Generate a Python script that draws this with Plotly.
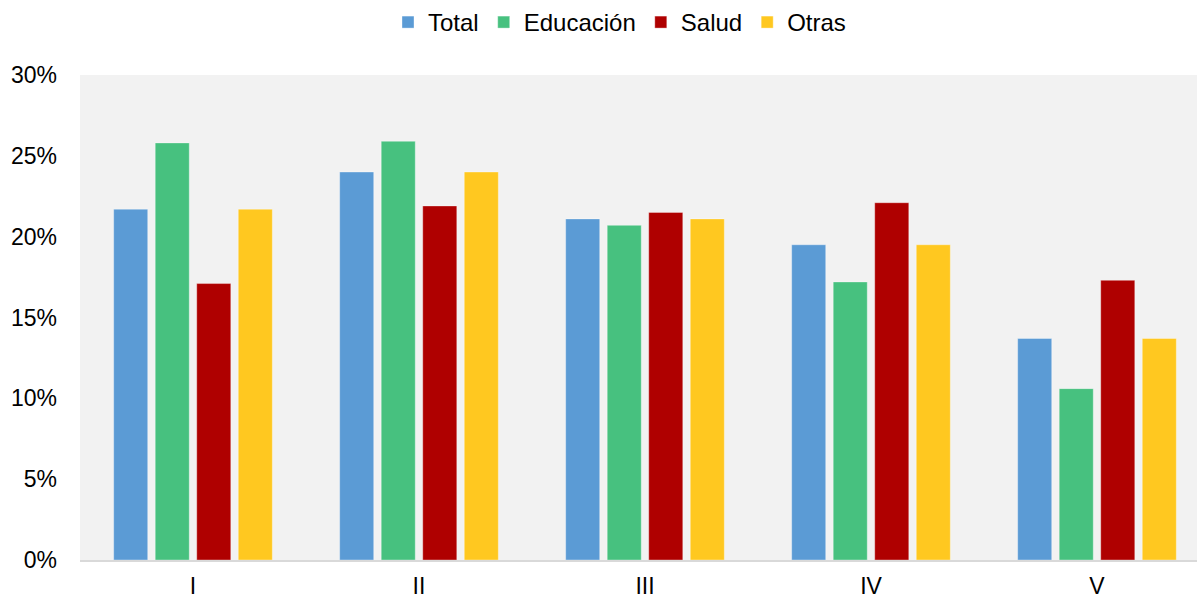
import plotly.graph_objects as go

categories = ["I", "II", "III", "IV", "V"]
total = [0.217, 0.240, 0.211, 0.195, 0.137]
educacion = [0.258, 0.259, 0.207, 0.172, 0.106]
salud = [0.171, 0.219, 0.215, 0.221, 0.173]
otras = [0.217, 0.240, 0.211, 0.195, 0.137]

series = [
    ("Total", total, "#5B9BD5"),
    ("Educación", educacion, "#47C17F"),
    ("Salud", salud, "#AF0000"),
    ("Otras", otras, "#FFC820"),
]

fig = go.Figure()
for name, vals, color in series:
    fig.add_trace(go.Bar(
        x=categories, y=vals, name=name,
        marker=dict(color=color, line=dict(color="rgba(255,255,255,0.35)", width=1)),
    ))

fig.update_layout(
    width=1197, height=597,
    margin=dict(l=80, r=0, t=75, b=37),
    paper_bgcolor="white",
    plot_bgcolor="#F2F2F2",
    barmode="group",
    bargap=0.265,
    bargroupgap=0.18,
    font=dict(family="Liberation Sans, Arial, sans-serif", size=23, color="#000000"),
    legend=dict(orientation="h", x=0.483, xanchor="center", y=1.0, yanchor="top",
                yref="container", font=dict(size=24), itemwidth=30),
    showlegend=True,
)
fig.update_xaxes(showline=True, linecolor="#D9D9D9", linewidth=2, ticks="",
                 showgrid=False, tickfont=dict(size=23), ticklabelstandoff=4,
                 automargin=False, range=[-0.5, 4.4425])
fig.update_yaxes(range=[0, 0.30], dtick=0.05, tickformat=".0%", showgrid=False,
                 zeroline=False, showline=False, ticks="", ticklabelstandoff=22,
                 tickfont=dict(size=23), automargin=False)

fig.write_html("out.html", config={"displayModeBar": False},
               post_script="document.body.style.margin='0';")
